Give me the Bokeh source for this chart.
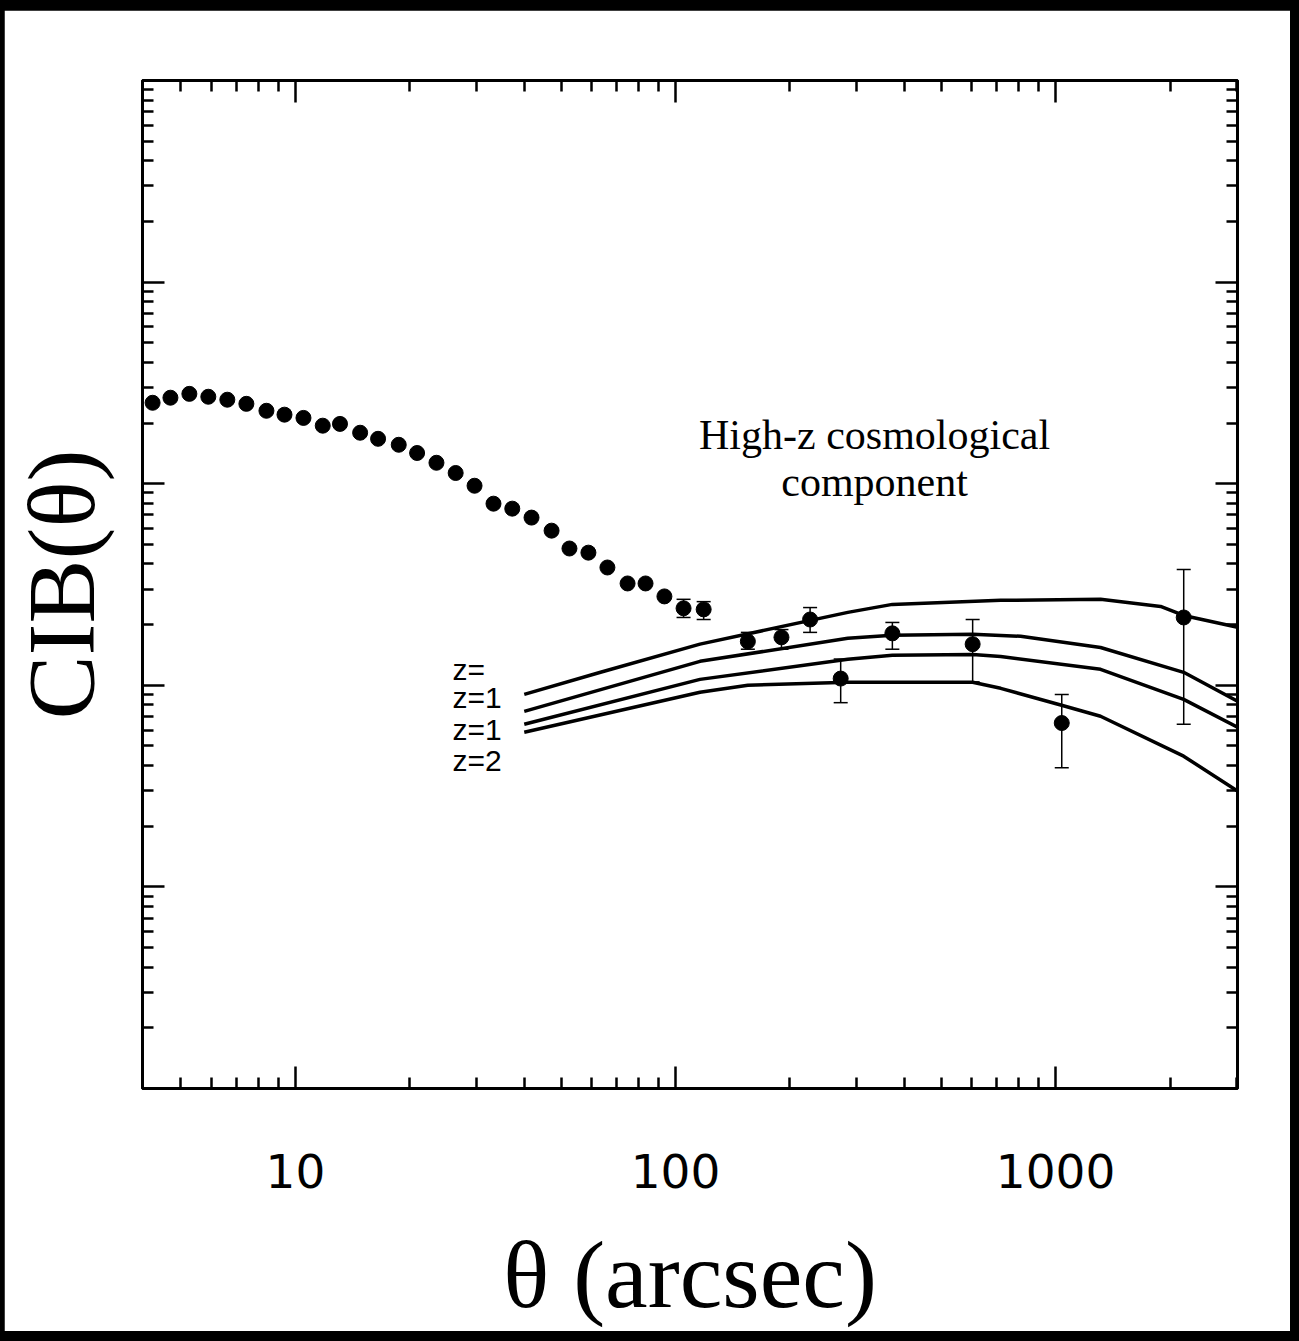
from bokeh.plotting import figure
from bokeh.models import (LogAxis, FixedTicker, PrintfTickFormatter, CustomJSTickFormatter,
                          Whisker, TeeHead, ColumnDataSource, Label, Range1d)
from bokeh.embed import file_html
from bokeh.resources import INLINE

# ---------------- data ----------------
dense_theta = [4.21, 4.69, 5.26, 5.90, 6.62, 7.43, 8.39, 9.36, 10.5, 11.8,
               13.1, 14.8, 16.5, 18.7, 20.9, 23.5, 26.4, 29.6, 33.2, 37.2,
               41.8, 47.2, 52.6, 59.0, 66.2, 74.8, 83.4, 93.5, 105.0, 118.6]
dense_w = [0.252, 0.267, 0.279, 0.270, 0.261, 0.249, 0.230, 0.220, 0.212, 0.194,
           0.198, 0.179, 0.167, 0.156, 0.142, 0.127, 0.113, 0.0977, 0.0796, 0.0752,
           0.0679, 0.0585, 0.0477, 0.0455, 0.0384, 0.0320, 0.0320, 0.0276, 0.0241, 0.0238]
dense_err_theta = [105.0, 118.6]
dense_err_up = [0.0267, 0.0260]
dense_err_lo = [0.0217, 0.0212]

sparse_theta = [155, 190, 226, 272, 372, 605, 1038, 2173]
sparse_w = [0.0165, 0.0173, 0.0212, 0.0108, 0.0181, 0.0160, 0.0065, 0.0217]
sparse_up = [0.0183, 0.0189, 0.0243, 0.0135, 0.0205, 0.0212, 0.0090, 0.0375]
sparse_lo = [0.0151, 0.0151, 0.0183, 0.0082, 0.0151, 0.0104, 0.0039, 0.0064]

model1_x = [40, 63.5, 116, 284, 372, 717, 1313, 1889, 2172, 3010]
model1_y = [0.00902, 0.0116, 0.0160, 0.0230, 0.0252, 0.0264, 0.0267, 0.0246, 0.0222, 0.0194]
model2_x = [40, 116, 284, 372, 605, 809, 1313, 2172, 3010]
model2_y = [0.00743, 0.01315, 0.0171, 0.0177, 0.0179, 0.0175, 0.0154, 0.0116, 0.00833]
model3_x = [40, 116, 284, 372, 605, 717, 1313, 2172, 3010]
model3_y = [0.00641, 0.0107, 0.01345, 0.0141, 0.0142, 0.0139, 0.0120, 0.00852, 0.0062]
model4_x = [40, 116, 155, 284, 605, 717, 1037, 1313, 2172, 3010]
model4_y = [0.00585, 0.00923, 0.0100, 0.01035, 0.01035, 0.00966, 0.00796, 0.00702, 0.00445, 0.00299]

x_major = [10, 100, 1000]
x_minor = [5, 6, 7, 8, 9, 20, 30, 40, 50, 60, 70, 80, 90,
           200, 300, 400, 500, 600, 700, 800, 900, 2000, 3000]
y_major = [1e-3, 1e-2, 1e-1, 1.0]
y_minor = [k * 10.0 ** e for e in range(-4, 1) for k in range(2, 10)]

z_labels = ["z=", "z=1", "z=1", "z=2"]
z_label_x = [25.9, 25.9, 25.9, 25.9]
z_label_y = [0.0120, 0.00873, 0.00605, 0.00425]

# ---------------- figure ----------------
p = figure(x_axis_type="log", y_axis_type="log",
           x_range=Range1d(3.96, 3010), y_range=Range1d(1e-4, 10),
           frame_width=1095, frame_height=1008,
           min_border_left=130, min_border_right=53,
           min_border_top=70, min_border_bottom=243,
           output_backend="svg", toolbar_location=None,
           background_fill_color="white", border_fill_color="white")

p.styles = {"margin-left": "4px", "margin-top": "10px"}

try:
    from bokeh.models import GlobalInlineStyleSheet
    p.stylesheets = [GlobalInlineStyleSheet(css=(
        "html, body { background: #000; } "
        "html { background: linear-gradient(90deg, #1b8fc4 0px, #1b8fc4 3px, #000 3px, #000 100%); }"
    ))]
except Exception:
    pass

p.xgrid.visible = False
p.ygrid.visible = False
p.outline_line_color = "black"
p.outline_line_width = 3

blank = CustomJSTickFormatter(code="return '';")


def style_axis(ax, ticker):
    ax.ticker = ticker
    ax.axis_line_color = "black"
    ax.axis_line_width = 3
    ax.major_tick_in = 22
    ax.major_tick_out = 0
    ax.major_tick_line_width = 2.5
    ax.major_tick_line_color = "black"
    ax.minor_tick_in = 11
    ax.minor_tick_out = 0
    ax.minor_tick_line_width = 2.5
    ax.minor_tick_line_color = "black"


xt = FixedTicker(ticks=x_major, minor_ticks=x_minor)
yt = FixedTicker(ticks=y_major, minor_ticks=y_minor)

xa = p.xaxis[0]
style_axis(xa, xt)
xa.formatter = PrintfTickFormatter(format="%d")
xa.major_label_text_font = "DejaVu Sans"
xa.major_label_text_font_size = "47px"
xa.major_label_text_color = "black"
xa.major_label_standoff = 65
xa.axis_label = "θ (arcsec)"
xa.axis_label_text_font = "Liberation Serif"
xa.axis_label_text_font_size = "96px"
xa.axis_label_text_font_style = "normal"
xa.axis_label_text_color = "black"
xa.axis_label_standoff = 30

ya = p.yaxis[0]
style_axis(ya, yt)
ya.formatter = blank
ya.major_label_standoff = 0
ya.axis_label = "CIB(θ)"
ya.axis_label_text_font = "Liberation Serif"
ya.axis_label_text_font_size = "96px"
ya.axis_label_text_font_style = "normal"
ya.axis_label_text_color = "black"
ya.axis_label_standoff = 28

top_ax = LogAxis(formatter=blank, major_label_standoff=0)
style_axis(top_ax, FixedTicker(ticks=x_major, minor_ticks=x_minor))
p.add_layout(top_ax, "above")
right_ax = LogAxis(formatter=blank, major_label_standoff=0)
style_axis(right_ax, FixedTicker(ticks=y_major, minor_ticks=y_minor))
p.add_layout(right_ax, "right")

# model curves
for mx, my in [(model1_x, model1_y), (model2_x, model2_y),
               (model3_x, model3_y), (model4_x, model4_y)]:
    p.line(mx, my, line_color="black", line_width=3.5)

# error bars
src_de = ColumnDataSource(dict(x=dense_err_theta, up=dense_err_up, lo=dense_err_lo))
src_sp = ColumnDataSource(dict(x=sparse_theta, up=sparse_up, lo=sparse_lo))
for src in (src_de, src_sp):
    p.add_layout(Whisker(source=src, base="x", upper="up", lower="lo",
                         line_color="black", line_width=1.5,
                         upper_head=TeeHead(size=14, line_width=1.5, line_color="black"),
                         lower_head=TeeHead(size=14, line_width=1.5, line_color="black")))

# data points
p.scatter(dense_theta, dense_w, size=15, marker="circle",
          fill_color="black", line_color="black")
p.scatter(sparse_theta, sparse_w, size=15, marker="circle",
          fill_color="black", line_color="black")

# annotations
p.add_layout(Label(x=334, y=0.175, text="High-z cosmological",
                   text_font="Liberation Serif", text_font_size="42px",
                   text_align="center", text_baseline="middle", text_color="black"))
p.add_layout(Label(x=334, y=0.102, text="component",
                   text_font="Liberation Serif", text_font_size="42px",
                   text_align="center", text_baseline="middle", text_color="black"))
for t, lx, ly in zip(z_labels, z_label_x, z_label_y):
    p.add_layout(Label(x=lx, y=ly, text=t, text_font="Liberation Sans",
                       text_font_size="30px", text_align="left",
                       text_baseline="middle", text_color="black"))

open("out.html", "w").write(file_html(p, INLINE))
